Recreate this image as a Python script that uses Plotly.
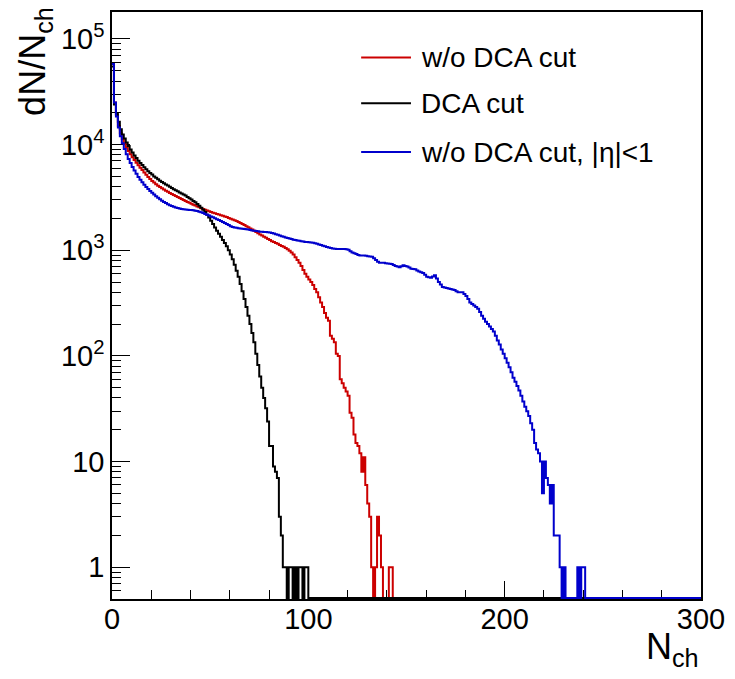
import numpy as np
import plotly.graph_objects as go

# Histogram binning: 300 unit-width bins in N_ch
n_bins = 300
x_min, x_max = 0, 300

# Bin contents starting at N_ch = 0 (bins after the last listed one are empty)
red_counts = [
    58000, 25000, 19000, 15000, 12800, 11300, 10200, 9400, 8700, 8100,
    7600, 7150, 6750, 6380, 6050, 5750, 5450, 5180, 4930, 4720,
    4530, 4370, 4220, 4090, 3970, 3860, 3760, 3660, 3570, 3480,
    3400, 3330, 3260, 3190, 3120, 3050, 2990, 2930, 2870, 2810,
    2750, 2700, 2650, 2600, 2550, 2500, 2460, 2420, 2380, 2340,
    2300, 2270, 2240, 2210, 2180, 2150, 2120, 2090, 2060, 2020,
    1990, 1960, 1920, 1890, 1850, 1810, 1770, 1730, 1690, 1650,
    1610, 1570, 1530, 1490, 1450, 1410, 1380, 1340, 1310, 1280,
    1250, 1220, 1200, 1170, 1150, 1120, 1100, 1080, 1050, 1020,
    990, 950, 910, 860, 810, 760, 710, 650, 600, 560,
    530, 500, 470, 430, 400, 360, 320, 290, 255, 230,
    215, 155, 145, 135, 105, 100, 60, 55, 50, 46,
    42, 29, 26, 18, 15, 14, 12, 8, 11, 6,
    4, 3, 1, 0, 1, 3, 2, 1, 0, 0,
    0, 1, 1,
]

black_counts = [
    55000, 24000, 19500, 16500, 14000, 12500, 11400, 10500, 9700, 9000,
    8400, 7900, 7450, 7050, 6700, 6400, 6100, 5850, 5600, 5400,
    5200, 5000, 4850, 4700, 4550, 4420, 4300, 4200, 4100, 3990,
    3880, 3790, 3700, 3610, 3530, 3450, 3370, 3290, 3200, 3110,
    3020, 2930, 2840, 2740, 2640, 2530, 2420, 2300, 2170, 2040,
    1900, 1770, 1640, 1530, 1430, 1340, 1250, 1170, 1090, 1000,
    910, 820, 730, 640, 560, 480, 410, 345, 290, 240,
    200, 165, 135, 105, 82, 64, 50, 40, 32, 24,
    14, 14, 9, 8, 7, 3, 2, 1, 1, 0,
    1, 1, 0, 1, 0, 1, 1, 0, 1, 1,
]

blue_counts = [
    58000, 25000, 18500, 14500, 12000, 10300, 9100, 8100, 7300, 6700,
    6150, 5700, 5300, 4950, 4650, 4400, 4180, 3980, 3800, 3640,
    3500, 3370, 3250, 3140, 3040, 2950, 2870, 2800, 2730, 2670,
    2620, 2580, 2540, 2510, 2480, 2460, 2440, 2430, 2420, 2410,
    2400, 2390, 2370, 2350, 2320, 2290, 2250, 2210, 2170, 2130,
    2090, 2050, 2010, 1970, 1930, 1890, 1850, 1810, 1770, 1730,
    1690, 1660, 1640, 1630, 1620, 1610, 1600, 1590, 1580, 1570,
    1555, 1540, 1530, 1520, 1510, 1500, 1495, 1490, 1485, 1480,
    1470, 1455, 1440, 1420, 1400, 1380, 1360, 1340, 1320, 1305,
    1290, 1275, 1260, 1250, 1240, 1230, 1220, 1210, 1200, 1195,
    1190, 1185, 1180, 1165, 1150, 1135, 1120, 1105, 1090, 1075,
    1060, 1050, 1040, 1035, 1030, 1030, 1030, 1030, 1030, 1020,
    1010, 980, 950, 935, 920, 900, 890, 890, 890, 885,
    880, 875, 870, 840, 810, 780, 760, 760, 760, 755,
    750, 745, 740, 725, 710, 700, 690, 705, 720, 710,
    700, 685, 670, 665, 660, 645, 630, 620, 610, 585,
    560, 555, 550, 565, 580, 540, 500, 475, 450, 445,
    440, 435, 430, 425, 420, 410, 400, 400, 400, 385,
    370, 345, 320, 310, 300, 290, 280, 260, 240, 225,
    210, 200, 190, 180, 170, 155, 140, 128, 115, 105,
    95, 86, 78, 70, 62, 57, 52, 47, 42, 37,
    33, 30, 27, 23, 20, 15, 13, 12, 10, 5,
    10, 7, 6, 4, 6, 2, 2, 2, 1, 0,
    1, 0, 0, 0, 0, 0, 0, 1, 0, 1,
    1,
]

series_names = ["w/o DCA cut", "DCA cut", "w/o DCA cut, |η|<1"]
series_colors = ["#cc0000", "#000000", "#0000cc"]

x_tick_vals = [0, 100, 200, 300]
x_tick_text = ["0", "100", "200", "300"]
y_tick_vals = [1, 10, 100, 1000, 10000, 100000]
y_tick_text = ["1", "10", "10<sup>2</sup>", "10<sup>3</sup>",
               "10<sup>4</sup>", "10<sup>5</sup>"]

x_title = "N<sub>ch</sub>"
y_title = "dN/N<sub>ch</sub>"

# Vertical range of the log axis
y_min, y_max = 0.5, 1.8e5

# Canvas geometry
width, height = 735, 679
margin = dict(l=112, r=32, t=10, b=80)
plot_h = height - margin["t"] - margin["b"]

# Empty bins are drawn along the lower frame edge, as ROOT does on a log scale
decades_per_px = (np.log10(y_max) - np.log10(y_min)) / plot_h
empty_level = y_min * 10 ** (1.0 * decades_per_px)

edges = np.arange(x_min, x_max + 1, (x_max - x_min) // n_bins)


def step_outline(values):
    counts = np.zeros(n_bins)
    counts[:len(values)] = values
    shown = np.where(counts > 0, counts, empty_level)
    return edges, np.append(shown, shown[-1])


fig = go.Figure()
for values, name, color in zip([red_counts, black_counts, blue_counts],
                               series_names, series_colors):
    xs, ys = step_outline(values)
    fig.add_trace(go.Scatter(
        x=xs, y=ys, mode="lines", name=name,
        line=dict(color=color, width=2, shape="hv"),
        showlegend=False, hoverinfo="skip",
    ))

font_family = "Liberation Sans, Arial, Helvetica, sans-serif"
tick_size = 29

fig.update_layout(
    width=width, height=height, margin=margin,
    paper_bgcolor="white", plot_bgcolor="white",
    font=dict(family=font_family, size=tick_size, color="black"),
    showlegend=False,
)

fig.update_xaxes(
    range=[x_min, x_max], showgrid=False, zeroline=False,
    showline=True, linecolor="black", linewidth=1.5, mirror=True,
    layer="below traces",
    tickmode="array", tickvals=x_tick_vals, ticktext=x_tick_text,
    ticks="inside", ticklen=18, tickwidth=1, tickcolor="black",
    ticklabelstandoff=-7,
    minor=dict(ticks="inside", ticklen=9, tickwidth=1, tickcolor="black",
               tick0=0, dtick=20, showgrid=False),
    tickfont=dict(family=font_family, size=tick_size),
)

minor_y = [k * 10.0 ** d for d in range(-1, 6) for k in range(2, 10)
           if y_min < k * 10.0 ** d < y_max]

fig.update_yaxes(
    type="log", range=[np.log10(y_min), np.log10(y_max)],
    showgrid=False, zeroline=False,
    showline=True, linecolor="black", linewidth=1.5, mirror=True,
    layer="below traces",
    tickmode="array", tickvals=y_tick_vals, ticktext=y_tick_text,
    ticks="inside", ticklen=18, tickwidth=1, tickcolor="black",
    ticklabelstandoff=0,
    minor=dict(ticks="inside", ticklen=9, tickwidth=1, tickcolor="black",
               tickmode="array", tickvals=minor_y, showgrid=False),
    tickfont=dict(family=font_family, size=tick_size),
)

annotations = [
    dict(text=y_title, xref="paper", yref="paper", x=-0.13, y=1.012,
         xanchor="center", yanchor="top", textangle=-90, showarrow=False,
         font=dict(family=font_family, size=36)),
    dict(text=x_title, xref="paper", yref="paper", x=1.0, y=-0.085,
         xanchor="right", yanchor="middle", showarrow=False,
         font=dict(family=font_family, size=36)),
]

# Legend: line swatch followed by the label, one row per series
legend_rows_y = [0.9227, 0.8445, 0.7613]
shapes = []
for name, color, ly in zip(series_names, series_colors, legend_rows_y):
    shapes.append(dict(type="line", xref="paper", yref="paper",
                       x0=0.423, x1=0.5076, y0=ly, y1=ly,
                       line=dict(color=color, width=2)))
    annotations.append(dict(text=name, xref="paper", yref="paper",
                            x=0.522, y=ly, xanchor="left", yanchor="middle",
                            showarrow=False,
                            font=dict(family=font_family, size=28)))

fig.update_layout(annotations=annotations, shapes=shapes)

fig.write_html("out.html")
